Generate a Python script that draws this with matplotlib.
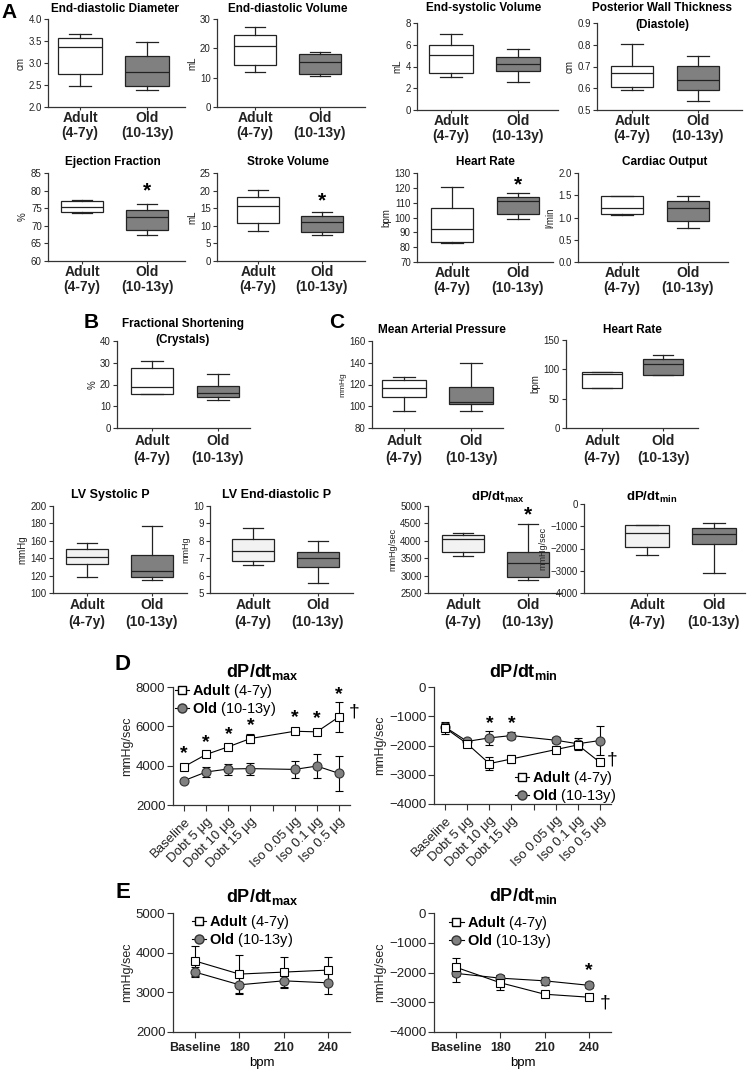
import matplotlib
matplotlib.use("Agg")
import matplotlib.pyplot as plt
from matplotlib.lines import Line2D
from matplotlib.ticker import FormatStrFormatter

plt.rcParams['font.family'] = ['Liberation Sans', 'DejaVu Sans']
plt.rcParams['mathtext.fontset'] = 'custom'
plt.rcParams['mathtext.rm'] = 'Liberation Sans'
plt.rcParams['mathtext.bf'] = 'Liberation Sans:bold'
plt.rcParams['mathtext.it'] = 'Liberation Sans:italic'
plt.rcParams['mathtext.sf'] = 'Liberation Sans'

# ---------------- data ----------------
groups = ["Adult\n(4-7y)", "Old\n(10-13y)"]
# box stats: [min, q1, median, q3, max]
edd_adult = [2.47, 2.75, 3.36, 3.57, 3.65]
edd_old = [2.39, 2.47, 2.80, 3.15, 3.48]
edv_adult = [11.8, 14.3, 20.8, 24.5, 27.2]
edv_old = [10.6, 11.4, 15.3, 18.1, 18.6]
esv_adult = [3.08, 3.36, 5.1, 6.0, 7.02]
esv_old = [2.56, 3.57, 4.21, 4.89, 5.62]
pwt_adult = [0.592, 0.604, 0.672, 0.703, 0.802]
pwt_old = [0.540, 0.590, 0.640, 0.703, 0.750]
ef_adult = [73.7, 73.9, 75.3, 77.1, 77.4]
ef_old = [67.5, 68.9, 72.5, 74.6, 76.3]
sv_adult = [8.55, 10.7, 15.6, 18.3, 20.06]
sv_old = [7.3, 8.2, 11.0, 12.7, 13.8]
hr_adult = [83.1, 83.6, 92.2, 106.7, 120.3]
hr_old = [99.2, 102.1, 111.0, 113.5, 116.2]
co_adult = [1.057, 1.07, 1.215, 1.48, 1.494]
co_old = [0.762, 0.913, 1.223, 1.374, 1.494]
fs_adult = [15.7, 15.7, 18.7, 27.4, 31.0]
fs_old = [12.8, 14.1, 16.3, 19.2, 24.6]
map_adult = [95.5, 108.3, 116.8, 123.8, 126.5]
map_old = [95.5, 101.9, 104.3, 118.0, 140.2]
hrc_adult = [67.9, 69.0, 92.4, 95.3, 95.8]
hrc_old = [89.6, 90.7, 109.0, 117.5, 123.8]
lvsp_adult = [118.0, 133.0, 141.8, 150.6, 157.9]
lvsp_old = [114.9, 118.8, 125.3, 143.3, 177.4]
lvedp_adult = [6.63, 6.82, 7.39, 8.08, 8.74]
lvedp_old = [5.59, 6.51, 7.03, 7.35, 8.0]
dpmax_adult = [3563, 3678, 4061, 4157, 4234]
dpmax_old = [2864, 2960, 3372, 3678, 4492]
dpmin_adult = [-2309, -1947, -1313, -951, -951]
dpmin_old = [-3094, -1796, -1358, -1057, -875]

# Panel D (dobutamine / isoproterenol)
d_labels = ["Baseline", "Dobt 5 μg", "Dobt 10 μg", "Dobt 15 μg", "",
            "Iso 0.05 μg", "Iso 0.1 μg", "Iso 0.5 μg"]
dmax_adult = [3950, 4570, 4960, 5380, 5750, 5720, 6480]
dmax_adult_err = [80, 90, 90, 230, 150, 90, 750]
dmax_old = [3240, 3680, 3830, 3850, 3810, 3980, 3610]
dmax_old_err = [100, 270, 280, 300, 430, 610, 880]
dmax_star_y = [4820, 5380, 5800, 6230, 6650, 6600, 7830]
dmin_adult = [-1400, -1940, -2620, -2460, -2140, -1980, -2575]
dmin_adult_err = [200, 100, 230, 150, 130, 120, 80]
dmin_old = [-1370, -1860, -1740, -1660, -1820, -1940, -1830]
dmin_old_err = [150, 80, 240, 130, 100, 200, 500]
dmin_star_idx = [2, 3]
dmin_star_y = [-1120, -1120]

# Panel E (pacing)
e_labels = ["Baseline", "180", "210", "240"]
emax_adult = [3790, 3460, 3510, 3560]
emax_adult_err = [370, 480, 390, 340]
emax_old = [3510, 3190, 3290, 3240]
emax_old_err = [120, 220, 150, 290]
emin_adult = [-1825, -2345, -2730, -2830]
emin_adult_err = [300, 250, 100, 60]
emin_old = [-2030, -2190, -2280, -2430]
emin_old_err = [300, 120, 130, 100]

# ---------------- figure ----------------
W, H = 750, 1071
fig = plt.figure(figsize=(7.5, 10.71), dpi=100)
DARK = '#222222'
GRAY = '#808080'


def px_axes(left, top, right, bottom):
    return fig.add_axes([left / W, 1 - bottom / H, (right - left) / W, (bottom - top) / H])


def ftext(x, y, s, **kw):
    kw.setdefault('ha', 'center')
    kw.setdefault('va', 'center')
    return fig.text(x / W, 1 - y / H, s, **kw)


def style_axes(ax):
    for sp in ['top', 'right']:
        ax.spines[sp].set_visible(False)
    for sp in ['left', 'bottom']:
        ax.spines[sp].set_linewidth(0.9)
        ax.spines[sp].set_color('#333333')
    ax.tick_params(colors='#333333', labelcolor=DARK, width=0.8, length=3)


def box_panel(L, R, ca, co, top, bottom, adult, old, ylim, yticks, ylabel,
              fmt=None, adult_fc='white', ytick_fs=7, ylab_fs=7, cat_ls=1.05,
              xpad=0.5):
    ax = px_axes(L, top, R, bottom)
    s = co - ca
    stats = []
    for v, lab in zip([adult, old], groups):
        stats.append(dict(whislo=v[0], q1=v[1], med=v[2], q3=v[3], whishi=v[4],
                          fliers=[], label=lab))
    bp = ax.bxp(stats, positions=[0, 1], widths=0.65, patch_artist=True,
                showfliers=False, capwidths=0.32,
                boxprops=dict(linewidth=0.9, edgecolor=DARK),
                whiskerprops=dict(linewidth=0.9, color=DARK),
                capprops=dict(linewidth=0.9, color=DARK),
                medianprops=dict(linewidth=0.9, color=DARK))
    bp['boxes'][0].set_facecolor(adult_fc)
    bp['boxes'][1].set_facecolor(GRAY)
    ax.set_xlim(-(ca - L) / s, 1 + (R - co) / s)
    ax.set_ylim(*ylim)
    ax.set_yticks(yticks)
    if fmt:
        ax.yaxis.set_major_formatter(FormatStrFormatter(fmt))
    style_axes(ax)
    ax.tick_params(axis='y', labelsize=ytick_fs, pad=1.5)
    ax.tick_params(axis='x', pad=xpad, length=2.5)
    ax.set_xticks([0, 1])
    ax.set_xticklabels(groups, fontweight='bold', fontsize=10, linespacing=cat_ls)
    ax.set_ylabel(ylabel, fontsize=ylab_fs, labelpad=2, color=DARK)
    return ax


def star(ax, x, y, size=15):
    ax.annotate('*', xy=(x, y), xytext=(0, -3), textcoords='offset points',
                fontsize=size, fontweight='bold', ha='center', va='center', color='k')


# ---- Row A1 ----
ax = box_panel(48, 185, 80, 147, 19, 107, edd_adult, edd_old, (2.0, 4.0),
               [2.0, 2.5, 3.0, 3.5, 4.0], 'cm', fmt='%.1f')
ax = box_panel(217, 365, 255, 320, 19, 107, edv_adult, edv_old, (0, 30),
               [0, 10, 20, 30], 'mL')
ax = box_panel(417, 558, 451, 518, 23, 110, esv_adult, esv_old, (0, 8),
               [0, 2, 4, 6, 8], 'mL')
ax = box_panel(597, 742, 632, 698, 23, 110, pwt_adult, pwt_old, (0.5, 0.9),
               [0.5, 0.6, 0.7, 0.8, 0.9], 'cm', fmt='%.1f')
ftext(115, 9, 'End-diastolic Diameter', fontsize=8.5, fontweight='bold')
ftext(288, 9, 'End-diastolic Volume', fontsize=8.5, fontweight='bold')
ftext(484, 8, 'End-systolic Volume', fontsize=8.5, fontweight='bold')
ftext(662, 8, 'Posterior Wall Thickness', fontsize=8.5, fontweight='bold')
ftext(662, 25, '(Diastole)', fontsize=8.5, fontweight='bold')

# ---- Row A2 ----
ax = box_panel(48, 185, 82, 147, 173, 261, ef_adult, ef_old, (60, 85),
               [60, 65, 70, 75, 80, 85], '%')
star(ax, 1, 81)
ax = box_panel(217, 365, 258, 322, 173, 261, sv_adult, sv_old, (0, 25),
               [0, 5, 10, 15, 20, 25], 'mL')
star(ax, 1, 18.3)
ax = box_panel(417, 553, 452, 518, 173, 262, hr_adult, hr_old, (70, 130),
               [70, 80, 90, 100, 110, 120, 130], 'bpm')
star(ax, 1, 124.8)
ax = box_panel(578, 728, 622, 688, 173, 262, co_adult, co_old, (0, 2.0),
               [0.0, 0.5, 1.0, 1.5, 2.0], 'l/min', fmt='%.1f')
ftext(113, 162, 'Ejection Fraction', fontsize=8.5, fontweight='bold')
ftext(288, 162, 'Stroke Volume', fontsize=8.5, fontweight='bold')
ftext(485, 162, 'Heart Rate', fontsize=8.5, fontweight='bold')
ftext(665, 162, 'Cardiac Output', fontsize=8.5, fontweight='bold')

# ---- Row B / C ----
ax = box_panel(117, 250, 152, 218, 341, 428, fs_adult, fs_old, (0, 40),
               [0, 10, 20, 30, 40], '%', cat_ls=1.35, xpad=1.5)
ax = box_panel(372, 503, 404, 471, 341, 428, map_adult, map_old, (80, 160),
               [80, 100, 120, 140, 160], 'mmHg', ylab_fs=6, cat_ls=1.35, xpad=1.5)
ax = box_panel(566, 698, 602, 663, 340, 428, hrc_adult, hrc_old, (0, 150),
               [0, 50, 100, 150], 'bpm', cat_ls=1.35, xpad=1.5)
ftext(183, 324, 'Fractional Shortening', fontsize=8.5, fontweight='bold')
ftext(183, 340, '(Crystals)', fontsize=8.5, fontweight='bold')
ftext(442, 330, 'Mean Arterial Pressure', fontsize=8.5, fontweight='bold')
ftext(632, 330, 'Heart Rate', fontsize=8.5, fontweight='bold')

# ---- Row LV ----
LVFC = '#f2f2f2'
ax = box_panel(53, 187, 87, 152, 506, 593, lvsp_adult, lvsp_old, (100, 200),
               [100, 120, 140, 160, 180, 200], 'mmHg', adult_fc=LVFC, cat_ls=1.3, xpad=1)
ax = box_panel(210, 353, 253, 318, 506, 593, lvedp_adult, lvedp_old, (5, 10),
               [5, 6, 7, 8, 9, 10], 'mmHg', adult_fc=LVFC, ylab_fs=6.5, cat_ls=1.3, xpad=1)
ax = box_panel(428, 562, 463, 528, 506, 593, dpmax_adult, dpmax_old, (2500, 5000),
               [2500, 3000, 3500, 4000, 4500, 5000], 'mmHg/sec', adult_fc=LVFC,
               ylab_fs=6.5, cat_ls=1.3, xpad=1)
star(ax, 1, 4875)
ax = box_panel(584, 745, 647, 714, 504, 593, dpmin_adult, dpmin_old, (-4000, 0),
               [-4000, -3000, -2000, -1000, 0], 'mmHg/sec', adult_fc=LVFC,
               ylab_fs=6.5, cat_ls=1.3, xpad=1)
ftext(110, 495, 'LV Systolic P', fontsize=9, fontweight='bold')
ftext(277, 495, 'LV End-diastolic P', fontsize=9, fontweight='bold')
ftext(498, 497, r'$\mathbf{dP/dt}_{\mathbf{max}}$', fontsize=9.5)
ftext(652, 497, r'$\mathbf{dP/dt}_{\mathbf{min}}$', fontsize=9.5)

# ---- Panel letters ----
ftext(9, 12, 'A', fontsize=15, fontweight='bold')
ftext(91, 323, 'B', fontsize=15, fontweight='bold')
ftext(337, 323, 'C', fontsize=15, fontweight='bold')
ftext(123, 665, 'D', fontsize=16, fontweight='bold')
ftext(123, 893, 'E', fontsize=16, fontweight='bold')

# ---------------- line panels ----------------
adult_kw = dict(fmt='-s', color='k', mfc='white', mec='k', ms=6, lw=0.8,
                elinewidth=0.8, capsize=3, capthick=0.8, mew=0.8)
old_kw = dict(fmt='-o', color='k', mfc=GRAY, mec='#333333', ms=6.5, lw=0.8,
              elinewidth=0.8, capsize=3, capthick=0.8, mew=0.8)
leg_handles = [
    Line2D([], [], marker='s', color='k', mfc='white', mec='k', ms=6, lw=0.8,
           label=r'$\mathbf{Adult}$ (4-7y)'),
    Line2D([], [], marker='o', color='k', mfc=GRAY, mec='#333333', ms=6.5, lw=0.8,
           label=r'$\mathbf{Old}$ (10-13y)'),
]


def line_axes(L, R, top, bottom, ylim, yticks, xlim):
    ax = px_axes(L, top, R, bottom)
    style_axes(ax)
    ax.set_ylim(*ylim)
    ax.set_yticks(yticks)
    ax.set_xlim(*xlim)
    ax.tick_params(axis='y', labelsize=9.5, pad=1.5, length=4)
    ax.tick_params(axis='x', length=4)
    ax.set_ylabel('mmHg/sec', fontsize=9, labelpad=2, color=DARK)
    return ax


def add_legend(ax, loc, anchor):
    ax.legend(handles=leg_handles, loc=loc, bbox_to_anchor=anchor,
              frameon=False, fontsize=10.5, handlelength=1.0, handletextpad=0.2,
              labelspacing=0.0, borderaxespad=0, borderpad=0)


d_x = [i for i, lab in enumerate(d_labels) if lab]
e_x = list(range(len(e_labels)))

# D max
ax = line_axes(173, 350, 687, 805, (2000, 8000), [2000, 4000, 6000, 8000], (-0.5, 7.5))
ax.errorbar(d_x, dmax_old, yerr=dmax_old_err, **old_kw)
ax.errorbar(d_x, dmax_adult, yerr=dmax_adult_err, **adult_kw)
ax.set_xticks(range(len(d_labels)))
ax.set_xticklabels(d_labels, rotation=45, ha='right', rotation_mode='anchor', fontsize=9.5)
for xi, yi in zip(d_x, dmax_star_y):
    star(ax, xi, yi, size=14)
ax.text(7.42, 6750, '†', fontsize=14, ha='left', va='center')
add_legend(ax, 'upper left', (0.01, 1.04))
ftext(262, 672, r'$\mathbf{dP/dt}_{\mathbf{max}}$', fontsize=13)

# D min
ax = line_axes(434, 611, 687, 804, (-4000, 0), [-4000, -3000, -2000, -1000, 0], (-0.5, 7.5))
ax.errorbar(d_x, dmin_old, yerr=dmin_old_err, **old_kw)
ax.errorbar(d_x, dmin_adult, yerr=dmin_adult_err, **adult_kw)
ax.set_xticks(range(len(d_labels)))
ax.set_xticklabels(d_labels, rotation=45, ha='right', rotation_mode='anchor', fontsize=9.5)
for xi, yi in zip(dmin_star_idx, dmin_star_y):
    star(ax, xi, yi, size=14)
ax.text(7.3, -2500, '†', fontsize=14, ha='left', va='center')
add_legend(ax, 'lower right', (1.03, -0.01))
ftext(523, 672, r'$\mathbf{dP/dt}_{\mathbf{min}}$', fontsize=13)

# E max
ax = line_axes(173, 350, 913, 1032, (2000, 5000), [2000, 3000, 4000, 5000], (-0.5, 3.5))
ax.errorbar(e_x, emax_old, yerr=emax_old_err, **old_kw)
ax.errorbar(e_x, emax_adult, yerr=emax_adult_err, **adult_kw)
ax.set_xticks(e_x)
ax.set_xticklabels(e_labels, fontweight='bold', fontsize=9)
ax.set_xlabel('bpm', fontsize=9.5, labelpad=2)
add_legend(ax, 'upper left', (0.105, 1.0))
ftext(262, 897, r'$\mathbf{dP/dt}_{\mathbf{max}}$', fontsize=13)

# E min
ax = line_axes(434, 611, 913, 1032, (-4000, 0), [-4000, -3000, -2000, -1000, 0], (-0.5, 3.5))
ax.errorbar(e_x, emin_old, yerr=emin_old_err, **old_kw)
ax.errorbar(e_x, emin_adult, yerr=emin_adult_err, **adult_kw)
ax.set_xticks(e_x)
ax.set_xticklabels(e_labels, fontweight='bold', fontsize=9)
ax.set_xlabel('bpm', fontsize=9.5, labelpad=2)
star(ax, 3, -1800, size=14)
ax.text(3.25, -3030, '†', fontsize=14, ha='left', va='center')
add_legend(ax, 'upper left', (0.085, 0.99))
ftext(523, 896, r'$\mathbf{dP/dt}_{\mathbf{min}}$', fontsize=13)

fig.savefig('out.png', dpi=100)
